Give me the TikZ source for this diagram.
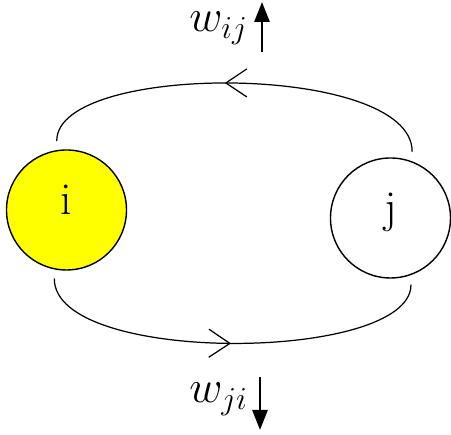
\RequirePackage{fix-cm}
\documentclass[tikz,border=0pt]{standalone}
\usepackage{amsmath}
\usepackage{xcolor}
\usepackage{tikz}
\usetikzlibrary{arrows.meta,decorations.markings}
\definecolor{netActive}{HTML}{FFFF00}
\definecolor{netInk}{HTML}{000000}
\tikzset{
  net diagram/.style={font=\fontsize{26}{31}\selectfont, text=netInk,
    line cap=round, line join=round},
  net unit/.style={circle, draw=netInk, fill=white, line width=0.8pt,
    minimum size=2.4cm, inner sep=0pt, outer sep=0.2cm,
    text height=0.67em, text depth=0.2em},
  net active/.style={net unit, fill=netActive},
  net link/.style={draw=netInk, line width=0.7pt, postaction={decorate},
    decoration={markings, mark=at position #1 with
      {\arrow{Straight Barb[length=0.42cm,width=0.56cm]}}}},
  net weight/.style={-{Triangle[length=0.4cm,width=0.3cm]}, draw=netInk,
    line width=1.6pt, line cap=butt},
  net label/.style={inner sep=0pt}
}
\begin{document}
\begin{tikzpicture}[net diagram,x=1cm,y=1cm]
\useasboundingbox (0,0) rectangle (9.02,8.7);
% units
\node[net active] (i) at (1.33,4.5) {i};
\node[net unit] (j) at (7.81,4.34) {j};
% links between the units
\draw[net link=0.53] (j.72) .. controls +(0,1.78) and +(0,1.58) .. (i.98);
\draw[net link=0.5] (i.260) .. controls +(0,-1.73) and +(0,-1.55) .. (j.287);
% weight changes
\coordinate (wij tail) at (5.24,7.66);
\coordinate (wij head) at (5.24,8.66);
\coordinate (wji tail) at (5.2,1.16);
\coordinate (wji head) at (5.2,0.1);
\node[net label,anchor=base east] (wij) at (4.96,8.06) {$w_{ij}$};
\node[net label,anchor=base east] (wji) at (4.96,0.64) {$w_{ji}$};
\draw[net weight] (wij tail) -- (wij head);
\draw[net weight] (wji tail) -- (wji head);
\end{tikzpicture}
\end{document}
